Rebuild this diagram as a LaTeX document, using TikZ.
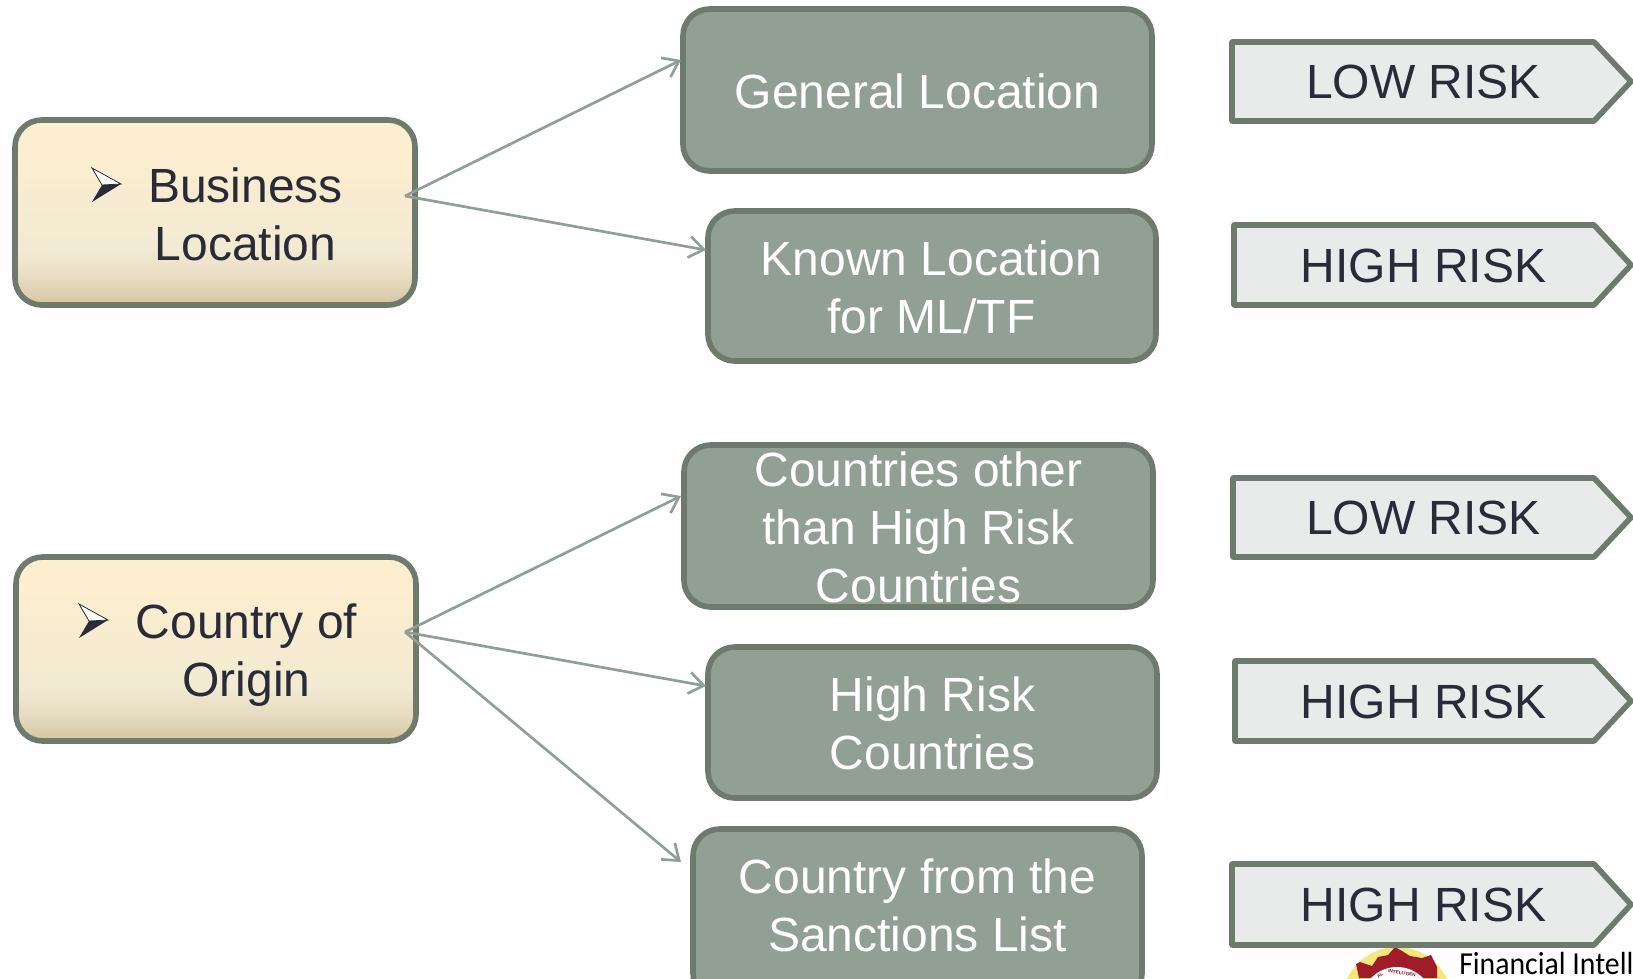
\documentclass[tikz,border=0pt]{standalone}
\usepackage{fontspec}
\setmainfont{Liberation Sans}
\newfontfamily\logofont{Carlito}
\usetikzlibrary{arrows.meta,shapes.geometric}
\definecolor{edgeC}{HTML}{6E7A6E}
\definecolor{fillC}{HTML}{919F94}
\definecolor{lineC}{HTML}{8F9F97}
\definecolor{lightC}{HTML}{E9EBEA}
\definecolor{inkC}{HTML}{2A2A38}
\definecolor{tanC}{HTML}{D8C8A4}
\definecolor{midC}{HTML}{E8DEC4}
\definecolor{paleC}{HTML}{F2EAD2}
\definecolor{topC}{HTML}{FDEECF}
\definecolor{sealY}{HTML}{F4E87C}
\definecolor{sealR}{HTML}{A01C28}
\pgfdeclareverticalshading{creamshade}{100bp}{
  color(0bp)=(tanC);
  color(26bp)=(tanC);
  color(33bp)=(midC);
  color(40bp)=(paleC);
  color(68bp)=(topC);
  color(100bp)=(topC)}
\tikzset{
  x=0.75pt,y=-0.75pt,
  txt/.style={font=\fontsize{36}{43.5}\selectfont,align=center,inner sep=0pt,outer sep=0pt},
  sourcebox/.style={draw=edgeC,line width=4.2pt,rounded corners=20pt,shading=creamshade,inner sep=0pt,outer sep=0pt},
  factorbox/.style={draw=edgeC,line width=4.2pt,rounded corners=20pt,fill=fillC,inner sep=0pt,outer sep=0pt},
  riskshape/.style={draw=edgeC,line width=4.2pt,fill=lightC,line join=round},
  link/.style={draw=lineC,line width=2pt,-{Straight Barb[length=11pt,width=16pt,line width=2pt]}},
  sealtxt/.style={font=\bfseries\fontsize{3.5}{3.5}\selectfont,text=sealR!70!black,inner sep=0pt},
}
\newcommand{\boxat}[6]{% name, style, x1, y1, x2, y2
  \pgfmathsetmacro{\bw}{(#5-#3)*0.75}\pgfmathsetmacro{\bh}{(#6-#4)*0.75}
  \node[#2,minimum width=\bw pt,minimum height=\bh pt] (#1) at ({(#3+#5)/2},{(#4+#6)/2}) {};
}
\newcommand{\riskat}[5]{% name, x, y1, y2, text
  \draw[riskshape] (#2,#3) -- (1594,#3) -- (1631,{(#3+#4)/2}) -- (1594,#4) -- (#2,#4) -- cycle;
  \node[txt,text=inkC] (#1) at (1423.5,{(#3+#4)/2+0.5}) {#5};
}
\newcommand{\bulletat}[2]{% x, y of the arrow's tip
  \begin{scope}[shift={(#1,#2)}]
    \fill[inkC] (-29,18) -- (0,0) -- (-19,1) -- cycle;
    \draw[inkC,line width=0.6pt,line join=miter,fill=white] (-29,-16) -- (0,0) -- (-19,1) -- cycle;
  \end{scope}
}
\begin{document}
\begin{tikzpicture}
\clip (0,0) rectangle (1633,978);
% source boxes
\boxat{business}{sourcebox}{15}{120}{415}{305}
\boxat{origin}{sourcebox}{16}{557}{416}{741}
\node[txt,text=inkC] (businesstext) at (245.5,214) {Business\\Location};
\node[txt,text=inkC] (origintext) at (246.5,650) [yshift=-3.75pt] {Country of\\Origin};
\bulletat{121}{184}
\bulletat{108}{620}
% factor boxes
\boxat{general}{factorbox}{683}{9}{1152}{171}
\boxat{known}{factorbox}{708}{211}{1156}{361}
\boxat{other}{factorbox}{684}{445}{1153}{607}
\boxat{high}{factorbox}{708}{647}{1157}{798}
\boxat{sanction}{factorbox}{693}{829}{1142}{1000}
\node[txt,text=white] (generaltext) at (917.5,91) {General Location};
\node[txt,text=white] (knowntext) at (931.5,287) {Known Location\\for ML/TF};
\node[txt,text=white] (othertext) at (918.5,527) {Countries other\\than High Risk\\Countries};
\node[txt,text=white] (hightext) at (932.5,723) {High Risk\\Countries};
\node[txt,text=white] (sanctiontext) at (917.5,905) {Country from the\\Sanctions List};
% connectors
\coordinate (bout) at (405,196);
\coordinate (oout) at (405,632);
\coordinate (ga) at (681,60);
\coordinate (ka) at (706,250);
\coordinate (oa) at (681,496);
\coordinate (ha) at (706,686);
\coordinate (sa) at (681,862);
\draw[link] (bout) -- (ga);
\draw[link] (bout) -- (ka);
\draw[link] (oout) -- (oa);
\draw[link] (oout) -- (ha);
\draw[link] (oout) -- (sa);
% logo fragment
\begin{scope}
\clip (1340,947) rectangle (1458,978);
\fill[sealY] (1397,1002) circle (55);
\fill[sealR] (1359,978) -- (1356,964) -- (1360,962) -- (1372,966) -- (1378,957) -- (1388,955) -- (1395,947) -- (1402,951) -- (1410,956) -- (1422,958) -- (1431,955) -- (1437,967) -- (1437,978) -- cycle;
\fill[white] (1397,1003) circle (36);
\end{scope}
\node[sealtxt,rotate=-8] (sealword) at (1402,973) {INTELLIGEN};
\node[sealtxt,rotate=40] (sealal) at (1380,975.5) {AL};
% risk tags
\riskat{risk1}{1232}{42}{121}{LOW RISK}
\riskat{risk2}{1234}{225}{305}{HIGH RISK}
\riskat{risk3}{1233}{478}{557}{LOW RISK}
\riskat{risk4}{1235}{661}{741}{HIGH RISK}
\riskat{risk5}{1232}{864}{945}{HIGH RISK}
\node[font=\logofont\fontsize{24}{24}\selectfont,anchor=base west,inner sep=0pt,xscale=0.93] (logotext) at (1459,974) {Financial Intell};
\end{tikzpicture}
\end{document}
